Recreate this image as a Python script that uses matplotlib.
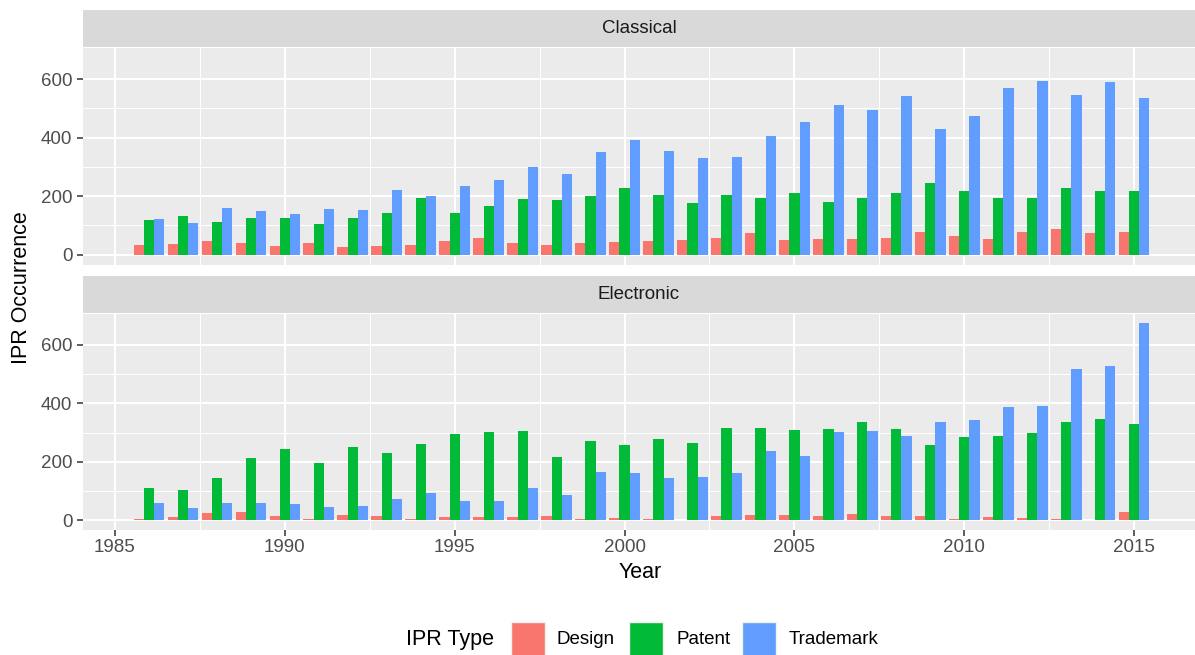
import numpy as np
import matplotlib
matplotlib.use("Agg")
import matplotlib.pyplot as plt
from matplotlib.patches import Rectangle

plt.rcParams['font.family'] = ['Liberation Sans', 'DejaVu Sans']

years = list(range(1986, 2016))
ipr_types = ["Design", "Patent", "Trademark"]
colors = {"Design": "#F8766D", "Patent": "#00BA38", "Trademark": "#619CFF"}

# Classical
classical_design = [32, 37, 48, 41, 31, 41, 27, 31, 34, 48, 58, 41, 34, 41, 44,
                    45, 49, 56, 73, 49, 52, 52, 56, 76, 62, 52, 76, 86, 73, 76]
classical_patent = [120, 133, 113, 126, 126, 106, 126, 143, 195, 143, 167, 191, 188, 202, 229,
                    205, 178, 205, 192, 209, 181, 192, 212, 246, 219, 195, 195, 229, 219, 219]
classical_trademark = [123, 109, 160, 150, 140, 157, 154, 222, 202, 236, 256, 301, 277, 352, 392,
                       355, 331, 335, 406, 454, 512, 495, 542, 430, 474, 569, 593, 546, 590, 535]

# Electronic
electronic_design = [3, 10, 24, 27, 14, 3, 17, 14, 3, 10, 10, 10, 14, 3, 7,
                     3, 1, 14, 17, 17, 14, 20, 14, 14, 3, 10, 7, 3, 1, 27]
electronic_patent = [109, 102, 146, 214, 245, 197, 251, 231, 262, 296, 302, 306, 217, 272, 258,
                     279, 265, 316, 316, 309, 313, 336, 313, 258, 285, 289, 299, 336, 347, 330]
electronic_trademark = [59, 41, 59, 59, 54, 44, 48, 71, 92, 65, 65, 109, 85, 166, 163,
                        146, 149, 160, 238, 221, 302, 306, 288, 336, 343, 387, 391, 517, 527, 674]

panels = [
    ("Classical", {"Design": classical_design, "Patent": classical_patent,
                   "Trademark": classical_trademark}),
    ("Electronic", {"Design": electronic_design, "Patent": electronic_patent,
                    "Trademark": electronic_trademark}),
]

W, H = 1195, 655
fig = plt.figure(figsize=(W / 100, H / 100), dpi=100)


def fig_box(x0, y0, x1, y1):
    # pixel box (top-left origin) -> figure fraction rect
    return [x0 / W, 1 - y1 / H, (x1 - x0) / W, (y1 - y0) / H]


panel_boxes = [(83, 47.5, 1195, 264.5), (83, 313.5, 1195, 530)]
strip_boxes = [(83, 10, 1195, 46.5), (83, 276, 1195, 312.5)]

tick_color = "#4D4D4D"
yl = (-33.7, 707.7)
xl = (1984.06, 2016.79)
bar_w = 0.3

for i, ((name, series), pb, sb) in enumerate(zip(panels, panel_boxes, strip_boxes)):
    ax = fig.add_axes(fig_box(*pb))
    ax.set_facecolor("#EBEBEB")
    for s in ax.spines.values():
        s.set_visible(False)

    x = np.array(years)
    for k, t in enumerate(ipr_types):
        ax.bar(x + (k - 1) * bar_w, series[t], width=bar_w, color=colors[t],
               linewidth=0, zorder=3)

    ax.set_xlim(*xl)
    ax.set_ylim(*yl)
    ax.set_yticks([0, 200, 400, 600])
    ax.set_yticks([100, 300, 500], minor=True)
    ax.set_xticks([1985, 1990, 1995, 2000, 2005, 2010, 2015])
    ax.set_xticks([1987.5, 1992.5, 1997.5, 2002.5, 2007.5, 2012.5], minor=True)
    ax.grid(which="major", color="white", linewidth=1.5, zorder=1)
    ax.grid(which="minor", color="white", linewidth=0.75, zorder=1)
    ax.set_axisbelow(True)

    ax.tick_params(axis="y", which="major", length=4.1, width=1.1, color="#333333",
                   labelsize=13.5, labelcolor=tick_color, pad=3.5)
    ax.tick_params(which="minor", length=0)
    if i == 0:
        ax.tick_params(axis="x", which="major", length=0, labelbottom=False)
    else:
        ax.tick_params(axis="x", which="major", length=4.1, width=1.1, color="#333333",
                       labelsize=13.5, labelcolor=tick_color, pad=2.5)

    sax = fig.add_axes(fig_box(*sb))
    sax.set_facecolor("#D9D9D9")
    sax.set_xticks([])
    sax.set_yticks([])
    for s in sax.spines.values():
        s.set_visible(False)
    sax.text(0.5, 0.5, name, ha="center", va="center", fontsize=13.5,
             color="#1A1A1A", transform=sax.transAxes)

# axis titles
fig.text(640 / W, 1 - 573 / H, "Year", ha="center", va="center", fontsize=15.5)
fig.text(22 / W, 1 - 288 / H, "IPR Occurrence", ha="center", va="center",
         fontsize=15.5, rotation=90)

# legend (bottom, horizontal)
fig.text(406 / W, 1 - 639 / H, "IPR Type", ha="left", va="center", fontsize=15.5)
key_left = [511, 629, 742]
label_left = [557, 676, 789]
for t, kx, lx in zip(ipr_types, key_left, label_left):
    fig.add_artist(Rectangle((kx / W, 1 - 656 / H), 34 / W, 34 / H,
                             transform=fig.transFigure, facecolor=colors[t],
                             edgecolor="#F2F2F2", linewidth=1))
    fig.text(lx / W, 1 - 639 / H, t, ha="left", va="center", fontsize=13.5)

fig.savefig("out.png", dpi=100)
